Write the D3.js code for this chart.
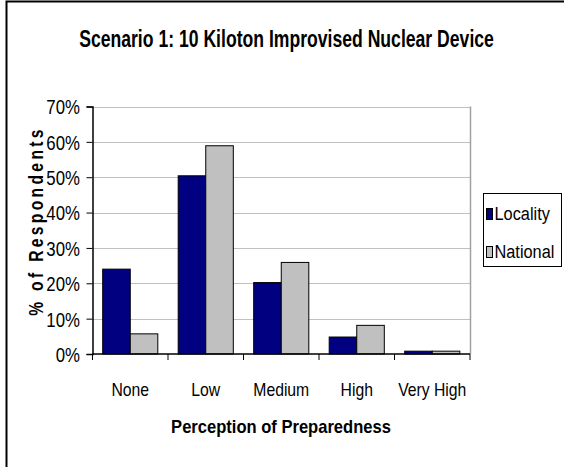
<!DOCTYPE html>
<html><head><meta charset="utf-8">
<script src="https://cdn.jsdelivr.net/npm/d3@7"></script>
<style>body{margin:0;background:#fff}svg{display:block}text{font-family:"Liberation Sans",Arial,sans-serif}</style>
</head><body>
<script>
const categories = ["None","Low","Medium","High","Very High"];
const seriesNames = ["Locality","National"];
const locality = [24.0, 50.4, 20.2, 4.8, 0.8];
const national = [5.7, 58.9, 25.9, 8.1, 0.8];
const yTicks = [0,10,20,30,40,50,60,70];
const colors = ["#000080","#c0c0c0"];

const W=564,H=467;
const svg=d3.select("body").append("svg").attr("width",W).attr("height",H);
svg.append("rect").attr("x",6.5).attr("y",1.5).attr("width",W+10).attr("height",H+10).attr("fill","#fff").attr("stroke","#000").attr("stroke-width",2);

const m={l:92.5,r:470,t:106.5,b:354};
const x=d3.scaleBand().domain(categories).range([m.l,m.r]).paddingInner(0).paddingOuter(0);
const xs=d3.scaleBand().domain(seriesNames).range([0,x.bandwidth()]).paddingInner(0).paddingOuter(0.37);
const y=d3.scaleLinear().domain([0,70]).range([m.b,m.t]);

// gridlines
svg.append("g").selectAll("line").data(yTicks.filter(d=>d>0)).join("line")
 .attr("x1",m.l).attr("x2",m.r).attr("y1",d=>Math.round(y(d))+0.5).attr("y2",d=>Math.round(y(d))+0.5)
 .attr("stroke","#c0c0c0").attr("stroke-width",1);
svg.append("line").attr("x1",m.r+0.5).attr("x2",m.r+0.5).attr("y1",m.t).attr("y2",m.b).attr("stroke","#a0a0a0").attr("stroke-width",1.5);

const data=categories.map((c,i)=>({c,vals:[locality[i],national[i]]}));
const g=svg.append("g");
data.forEach(d=>{
  d.vals.forEach((v,j)=>{
    g.append("rect").attr("x",x(d.c)+xs(seriesNames[j])).attr("width",xs.bandwidth())
     .attr("y",y(v)).attr("height",m.b-y(v)).attr("fill",colors[j]).attr("stroke","#000").attr("stroke-width",1);
  });
});

// y axis
const sx=0.82;
const ya=svg.append("g").attr("transform",`translate(${m.l},0)`)
 .call(d3.axisLeft(y).tickValues(yTicks).tickFormat(d=>d+"%").tickSize(6).tickPadding(6));
ya.select(".domain").attr("stroke","#000").attr("stroke-width",1.5);
ya.selectAll(".tick line").attr("stroke","#000");
ya.selectAll("text").attr("font-size",20.5).attr("fill","#000").attr("font-family",'"Liberation Sans",Arial,sans-serif')
  .attr("x",-12.5/sx).attr("transform",`scale(${sx},1)`).attr("dy","0.36em");

// x axis
const xa=svg.append("g").attr("transform",`translate(0,${m.b})`);
xa.append("line").attr("x1",m.l).attr("x2",m.r).attr("stroke","#000").attr("stroke-width",1.5);
const bounds=categories.map(c=>x(c)).concat([x(categories[categories.length-1])+x.bandwidth()]);
xa.selectAll(".tk").data(bounds).join("line").attr("x1",d=>d).attr("x2",d=>d).attr("y1",0).attr("y2",6).attr("stroke","#000");
const xsx=0.9;
xa.selectAll(".lbl").data(categories).join("text")
 .attr("transform",d=>`translate(${x(d)+x.bandwidth()/2},42) scale(${xsx},1)`)
 .attr("text-anchor","middle").attr("font-size",17.5).text(d=>d);

// titles
const title=svg.append("text").attr("text-anchor","middle").attr("font-weight","bold").attr("font-size",23.5)
  .text("Scenario 1: 10 Kiloton Improvised Nuclear Device");
const tl=title.node().getComputedTextLength();
title.attr("transform",`translate(286.5,47) scale(${415/tl},1)`);
svg.append("text").attr("transform","translate(281,433) scale(0.92,1)").attr("text-anchor","middle").attr("font-weight","bold").attr("font-size",18).text("Perception of Preparedness");
const yt=svg.append("text").attr("text-anchor","middle").attr("font-weight","bold").attr("font-size",19.5)
  .attr("letter-spacing",4.2).text("% of Respondents");
yt.attr("transform",`translate(42.5,221) rotate(-90) scale(0.8,1)`);

// legend
const lg=svg.append("g");
lg.append("rect").attr("x",483.5).attr("y",193.5).attr("width",78).attr("height",73).attr("fill","#fff").attr("stroke","#000").attr("stroke-width",1);
seriesNames.forEach((s,i)=>{
  const yy=[208,246][i];
  lg.append("rect").attr("x",486.5).attr("y",yy+0.5).attr("width",6).attr("height",11).attr("fill",colors[i]).attr("stroke","#000");
  lg.append("text").attr("transform",`translate(494.5,${yy+12}) scale(0.86,1)`).attr("font-size",19).text(s);
});
</script>
</body></html>
